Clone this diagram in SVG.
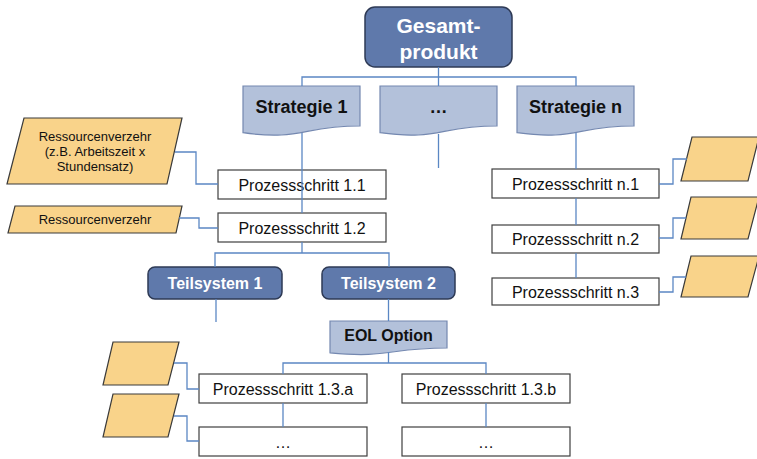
<svg xmlns="http://www.w3.org/2000/svg" width="757" height="459" viewBox="0 0 757 459">
  <style>
    .lvl0 { fill: #5F79AB; stroke: #2E3A55; stroke-width: 1.5; }
    .doc { fill: #B3C1DA; stroke: #7488B0; stroke-width: 1.2; }
    .step { fill: #FFFFFF; stroke: #3F3F3F; stroke-width: 1.2; }
    .res { fill: #F9D38A; stroke: #3A3A3A; stroke-width: 1.2; }
    .conn { fill: none; stroke: #5B87C4; stroke-width: 1.3; }
    text { font-family: "Liberation Sans", Arial, sans-serif; text-anchor: middle; }
    .tw { fill: #FFFFFF; font-weight: bold; }
    .tb { fill: #111111; font-weight: bold; }
    .tn { fill: #111111; font-size: 16px; }
    .ts { fill: #111111; font-size: 13px; }
  </style>

  <!-- top level -->
  <g id="gesamtprodukt">
    <rect class="lvl0" x="365" y="7" width="147" height="60" rx="10"/>
    <text class="tw" x="438.5" y="33" font-size="21">Gesamt-</text>
    <text class="tw" x="438.5" y="59" font-size="21">produkt</text>
  </g>

  <!-- strategies (document shapes) -->
  <g id="strategie-1">
    <path class="doc" d="M243,86 H360 V126 C301.5,126 301.5,141 243,132.7 Z"/>
    <text class="tb" x="301.5" y="113" font-size="18">Strategie 1</text>
  </g>
  <g id="strategie-mid">
    <path class="doc" d="M380,86 H497 V126 C438.5,126 438.5,141 380,132.7 Z"/>
    <text class="tb" x="438.5" y="113" font-size="18">…</text>
  </g>
  <g id="strategie-n">
    <path class="doc" d="M517,86 H634 V126 C575.5,126 575.5,141 517,132.7 Z"/>
    <text class="tb" x="575.5" y="113" font-size="18">Strategie n</text>
  </g>

  <!-- process steps, strategy 1 -->
  <g id="ps-1-1">
    <rect class="step" x="218" y="170" width="168" height="29"/>
    <text class="tn" x="302" y="190.5">Prozessschritt 1.1</text>
  </g>
  <g id="ps-1-2">
    <rect class="step" x="218" y="213" width="168" height="29"/>
    <text class="tn" x="302" y="233.5">Prozessschritt 1.2</text>
  </g>

  <!-- resource inputs, left -->
  <g id="res-1">
    <polygon class="res" points="24,118 182,118 167,184 7,184"/>
    <text class="ts" x="95" y="141">Ressourcenverzehr</text>
    <text class="ts" x="95" y="156">(z.B. Arbeitszeit x</text>
    <text class="ts" x="95" y="171">Stundensatz)</text>
  </g>
  <g id="res-2">
    <polygon class="res" points="15,206 182,206 176,233 8,233"/>
    <text class="ts" x="95" y="224">Ressourcenverzehr</text>
  </g>

  <!-- subsystems -->
  <g id="teilsystem-1">
    <rect class="lvl0" x="148" y="267" width="134" height="32" rx="7"/>
    <text class="tw" x="215" y="289" font-size="16">Teilsystem 1</text>
  </g>
  <g id="teilsystem-2">
    <rect class="lvl0" x="322" y="267" width="133" height="32" rx="7"/>
    <text class="tw" x="388.5" y="289" font-size="16">Teilsystem 2</text>
  </g>

  <g id="eol-option">
    <path class="doc" d="M330,321 H447 V348 C388.5,348 388.5,358.6 330,352.8 Z"/>
    <text class="tb" x="388.5" y="341" font-size="16">EOL Option</text>
  </g>

  <!-- process steps, EOL branch -->
  <g id="ps-1-3-a">
    <rect class="step" x="199" y="374" width="168" height="29"/>
    <text class="tn" x="283" y="394.5">Prozessschritt 1.3.a</text>
  </g>
  <g id="ps-1-3-b">
    <rect class="step" x="402" y="374" width="168" height="29"/>
    <text class="tn" x="486" y="394.5">Prozessschritt 1.3.b</text>
  </g>
  <g id="ps-a-more">
    <rect class="step" x="199" y="427" width="168" height="29"/>
    <text class="tn" x="283" y="448">…</text>
  </g>
  <g id="ps-b-more">
    <rect class="step" x="402" y="427" width="168" height="29"/>
    <text class="tn" x="486" y="448">…</text>
  </g>

  <g id="res-a">
    <polygon class="res" points="113,342 179,342 168,385 103,385"/>
  </g>
  <g id="res-b">
    <polygon class="res" points="113,394 179,394 168,437 103,437"/>
  </g>

  <!-- process steps, strategy n -->
  <g id="ps-n-1">
    <rect class="step" x="492" y="169" width="167" height="29"/>
    <text class="tn" x="575.5" y="189.5">Prozessschritt n.1</text>
  </g>
  <g id="ps-n-2">
    <rect class="step" x="492" y="225" width="167" height="28"/>
    <text class="tn" x="575.5" y="245">Prozessschritt n.2</text>
  </g>
  <g id="ps-n-3">
    <rect class="step" x="492" y="278" width="167" height="27"/>
    <text class="tn" x="575.5" y="297.5">Prozessschritt n.3</text>
  </g>

  <g id="res-n-1">
    <polygon class="res" points="692,137 759,137 748,181 681,181"/>
  </g>
  <g id="res-n-2">
    <polygon class="res" points="691,197 759,197 748,239 681,239"/>
  </g>
  <g id="res-n-3">
    <polygon class="res" points="691,256 759,256 748,297 681,297"/>
  </g>

  <!-- connectors -->
  <g id="connectors">
    <path class="conn" d="M438.5,67 V77 M302,86 V77 H576 V86 M438.5,77 V86"/>
    <path class="conn" d="M302,133 V213 M302,242 V253"/>
    <path class="conn" d="M438.5,134 V168"/>
    <path class="conn" d="M576,133 V169 M576,198 V225 M576,253 V278"/>
    <path class="conn" d="M175,152 H196 V184 H218"/>
    <path class="conn" d="M179,218 H199 V228 H218"/>
    <path class="conn" d="M215,267 V253 H389 V267"/>
    <path class="conn" d="M216,299 V322"/>
    <path class="conn" d="M388.5,299 V321"/>
    <path class="conn" d="M388.5,352 V363 M283,374 V363 H486 V374"/>
    <path class="conn" d="M283,403 V427 M486,403 V427"/>
    <path class="conn" d="M174,363 H187 V389 H199"/>
    <path class="conn" d="M174,416 H187 V441 H199"/>
    <path class="conn" d="M659,184 H673 V159 H687"/>
    <path class="conn" d="M659,238 H673 V218 H686"/>
    <path class="conn" d="M659,292 H673 V277 H686"/>
  </g>
</svg>
